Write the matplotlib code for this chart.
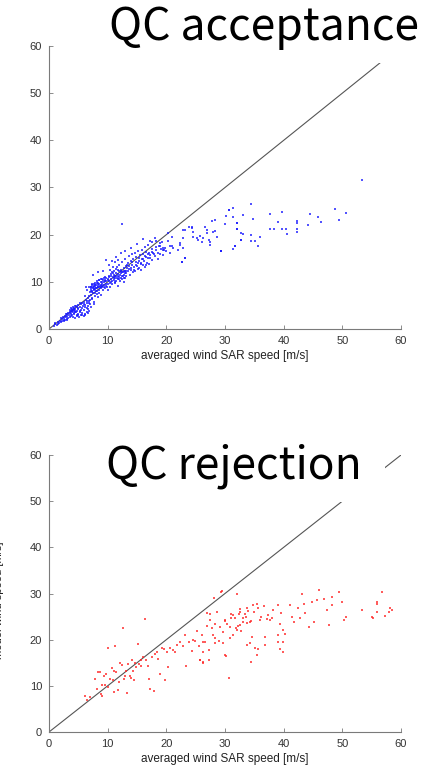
import matplotlib
matplotlib.use("Agg")
import matplotlib.pyplot as plt
import numpy as np

# ---------------- data ----------------
acc_x = [0.8,1.0,1.3,1.5,1.7,1.9,2.0,2.2,2.3,2.4,2.5,2.6,2.7,2.8,2.9,3.0,3.0,3.1,3.2,3.3,
         3.4,3.5,3.5,3.6,3.7,3.8,3.8,3.9,4.0,4.0,4.1,4.1,4.2,4.2,4.3,4.4,4.4,4.5,4.5,4.6,4.7,4.8,4.8,4.9,5.0,5.0,5.1,5.2,5.3,5.4,5.5,5.5,5.6,5.7,5.8,5.9,6.0,6.0,6.1,6.2,6.3,6.4,6.5,6.5,6.6,6.7,6.8,6.8,6.9,7.0,
         7.0,7.1,7.2,7.2,7.3,7.4,7.4,7.5,7.5,7.6,7.7,7.7,7.8,7.8,7.9,8.0,8.0,8.1,8.1,8.2,8.3,8.3,8.4,8.5,8.5,8.6,8.7,8.8,8.8,8.9,9.0,9.0,9.1,9.2,9.3,9.4,9.5,9.5,9.6,9.7,6.9,6.5,6.2,7.5,8.3,7.0,6.3,
         9.8,9.9,10.0,10.1,10.2,10.3,10.4,10.5,10.5,10.6,10.7,10.8,10.9,11.0,11.0,11.1,11.2,11.3,11.4,11.5,11.5,11.6,11.7,11.8,11.9,12.0,12.0,12.1,12.2,12.3,12.4,12.5,12.5,12.6,12.7,12.8,12.9,13.0,13.0,13.1,10.2,10.8,11.5,12.2,9.2,9.8,11.7,12.8,10.0,
         13.2,13.3,13.4,13.5,13.6,13.7,13.8,13.9,14.0,14.1,14.2,14.3,14.4,14.5,14.6,14.7,14.8,14.9,15.0,15.1,15.2,15.3,15.4,15.5,15.6,15.7,15.8,15.9,16.0,16.1,16.2,16.3,16.4,16.5,16.6,16.7,16.8,16.9,17.0,17.1,17.2,17.3,17.5,17.6,17.8,18.0,18.1,18.3,18.5,18.7,19.0,19.2,19.5,19.8,20.0,13.0,14.0,15.0,16.0,
         12.4,20.3,20.9,20.6,21.2,22.3,22.6,23.2,22.9,23.8,24.3,24.6,25.2,25.7,26.0,26.6,26.9,27.2,27.5,27.7,28.3,28.0,29.4,30.0,30.6,31.4,31.3,31.7,32.1,32.1,32.7,32.8,17.5,18.9,19.5,
         53.3,34.5,30.7,30.2,32.1,34.8,33.1,32.0,33.1,34.5,35.1,34.5,35.9,35.7,32.7,31.7,31.4,29.4,37.7,39.7,39.1,37.7,38.3,39.7,40.4,40.5,42.2,42.2,42.2,42.3,44.2,44.5,45.9,46.3,48.8,49.4,50.6,
         28.6,28.3,27.4,29.3,26.9,26.3,25.4,24.6,24.3,23.2,22.9,22.3,22.9,22.0,20.9,20.3,20.6,19.5,18.9,18.3,22.6,23.2,
         1.1,1.6,2.1,2.6,3.1,2.9,
         3.6,3.7,3.9,4.0,4.1,4.3,4.3,4.5,4.6,4.7,4.9,5.0,5.2,5.3,5.6,5.7,5.9,6.1,6.2,6.4,6.6,6.7,
         7.1,7.2,7.3,7.4,7.5,7.6,7.7,7.8,7.9,7.9,8.0,8.1,8.2,8.3,8.4,8.5,8.6,8.7,8.8,8.9,9.0,9.1,9.2,9.3,9.4,9.6,9.7,9.8,7.3,7.6,6.8,7.1,
         10.1,10.3,10.4,10.6,10.7,10.9,11.0,11.2,11.3,11.4,11.6,11.7,11.8,11.9,12.1,12.2,12.3,12.4,12.6,12.7,12.8,12.9,13.1,13.2,13.3,10.4,10.9,11.3,11.8,
         13.6,13.9,14.2,14.5,14.8,15.1,15.4,15.7,16.0,16.3,16.6,16.9,17.2,17.5,17.9,18.2,18.6,19.1,19.6]
acc_y = [0.6,1.0,0.9,1.4,1.2,1.8,1.5,2.1,1.6,2.5,1.9,2.3,2.8,2.0,2.6,3.1,2.2,2.7,3.4,2.4,
         3.0,3.6,2.5,4.0,3.2,3.8,2.8,4.3,3.5,4.1,3.9,2.6,4.5,3.3,4.0,3.7,4.8,4.2,2.4,3.5,4.6,3.9,2.8,5.0,4.3,3.2,2.5,4.7,3.6,5.2,2.9,4.1,5.5,3.4,4.8,2.7,5.8,4.0,3.2,5.1,6.2,4.5,3.6,5.6,6.6,4.9,3.9,6.0,7.1,5.3,
         7.8,8.5,7.2,9.0,8.1,6.5,9.5,8.7,7.6,9.2,8.2,5.8,9.8,7.0,8.8,8.0,9.4,7.4,10.1,8.6,9.0,6.8,9.7,8.3,10.4,7.7,9.2,8.6,10.0,7.2,9.6,8.9,10.6,8.2,9.9,9.3,10.4,8.7,11.0,9.6,9.0,8.2,7.0,11.5,12.0,6.2,8.9,
         10.1,9.0,10.7,9.6,11.2,10.2,8.8,11.6,9.9,10.6,12.0,9.5,11.0,10.3,12.4,11.5,9.8,10.8,12.8,11.2,10.1,13.2,11.7,10.5,12.2,11.0,13.6,10.2,11.8,12.6,11.3,14.3,10.6,12.0,13.0,11.5,12.4,14.8,10.9,13.4,13.5,14.4,15.2,16.1,12.4,14.6,9.2,9.9,8.2,
         11.8,12.9,14.0,12.2,15.4,13.3,11.5,14.4,12.6,15.8,13.6,12.0,14.8,13.1,16.2,12.4,14.1,15.2,13.4,12.8,16.5,14.5,13.0,15.6,14.0,12.6,16.8,14.9,13.6,15.9,14.4,17.3,13.2,15.2,16.4,14.0,17.8,15.0,16.2,13.8,18.6,15.6,17.0,14.6,16.2,19.2,15.4,16.8,14.8,17.6,16.0,18.4,15.6,17.2,16.5,16.5,17.2,18.0,19.0,
         22.3,20.3,19.6,17.5,17.1,17.8,14.1,15.0,21.0,21.7,21.6,20.6,19.2,19.7,18.5,21.7,21.0,18.9,17.8,23.0,23.1,20.6,16.6,22.2,25.2,25.6,23.8,17.5,22.4,21.1,18.9,20.3,18.5,18.2,17.1,
         31.5,26.5,25.3,24.0,22.4,23.4,24.1,21.2,20.2,19.9,18.7,18.7,19.4,17.5,18.9,17.5,16.9,16.6,24.3,24.7,22.6,21.3,21.3,21.3,21.3,20.2,22.8,22.4,21.2,20.6,22.0,24.3,23.8,22.6,25.5,23.2,24.6,
         19.6,20.7,18.5,16.6,20.3,19.3,18.9,19.6,21.4,21.0,19.3,18.2,17.2,16.8,17.5,18.6,16.1,16.8,17.5,18.6,14.3,15.0,
         1.3,1.0,2.4,1.7,2.0,3.2,
         3.4,4.4,3.0,3.8,4.6,3.1,4.3,3.8,4.9,3.0,4.4,2.9,3.9,5.5,3.0,4.4,5.3,4.6,2.9,5.9,4.2,3.3,
         8.0,8.8,9.4,7.9,9.0,8.4,9.6,8.5,9.3,7.6,8.7,9.8,8.1,9.4,8.8,9.5,10.3,8.9,9.4,10.6,9.2,9.9,10.3,8.9,10.8,10.1,9.2,10.8,6.4,5.2,5.6,4.6,
         10.4,11.0,9.8,11.3,10.2,11.8,10.8,11.2,10.0,11.9,10.8,12.5,11.3,10.7,11.5,12.4,10.9,12.0,11.2,12.3,10.8,11.8,12.2,11.2,13.6,12.6,13.2,14.1,14.6,
         12.8,13.0,14.3,12.6,13.6,14.0,15.1,13.8,14.8,15.5,13.6,16.0,15.0,16.4,15.8,17.4,16.2,17.0,16.8]

rej_x = [6.1,6.5,7.0,7.8,8.1,8.4,8.7,9.0,9.1,9.3,9.8,10.1,10.1,10.4,10.7,11.0,11.0,11.3,11.5,11.8,12.1,12.6,12.7,13.0,13.2,13.3,13.5,13.8,14.1,14.4,14.5,14.9,15.1,15.4,15.7,16.1,16.4,16.6,17.1,17.2,17.5,17.9,18.4,18.6,18.9,19.2,19.8,20.1,20.3,20.6,21.2,21.5,22.3,22.9,23.2,23.3,23.8,24.3,24.9,25.2,25.5,25.7,26.0,26.3,26.6,26.9,27.2,27.4,28.0,28.1,28.3,28.6,28.9,29.1,29.4,29.7,30.0,30.2,30.6,30.9,31.1,31.4,31.7,32.0,32.3,32.6,32.8,33.4,33.7,
         29.5,26.9,27.4,30.0,31.4,32.5,33.7,34.8,35.4,33.1,34.2,35.9,37.1,37.6,38.2,39.1,39.6,39.3,39.9,40.2,41.0,41.4,41.7,42.5,42.8,43.1,43.4,43.7,44.3,44.9,45.2,45.7,46.0,46.9,47.4,47.8,48.3,48.3,49.4,50.0,50.3,50.7,53.3,55.0,55.3,55.9,55.9,55.9,56.7,57.3,57.9,58.1,58.5,
         26.3,26.3,27.3,28.3,28.3,29.7,30.0,30.9,32.0,32.5,33.7,34.2,34.5,34.6,35.1,35.4,35.7,36.8,36.8,39.1,39.1,39.3,39.9,39.9,25.7,26.2,
         30.4,31.0,31.8,32.4,33.0,33.6,34.0,34.4,35.0,35.6,36.2,36.6,37.4,38.0,8.9,9.6,10.9,11.9,12.4,13.9,14.7,15.6,16.9,18.1,19.6,21.8,24.6,27.7]
rej_y = [7.9,7.0,7.6,11.5,9.4,12.9,13.1,10.1,7.9,12.2,12.6,9.7,18.3,11.5,13.9,13.3,8.6,18.6,12.9,9.0,14.9,22.5,11.5,12.2,13.3,8.4,14.7,12.2,15.5,13.3,11.2,14.0,19.1,14.7,15.5,16.2,24.5,15.5,11.5,9.4,16.2,8.8,17.3,15.8,12.6,18.2,11.2,17.3,14.0,18.3,17.8,17.3,19.4,18.7,21.1,14.4,19.4,17.6,19.8,21.9,18.7,15.5,21.0,15.1,19.4,23.0,15.5,25.5,21.0,29.1,23.4,25.9,19.8,22.7,30.4,21.6,24.1,16.5,11.7,22.7,25.5,21.0,24.8,29.9,23.0,26.6,21.9,25.5,23.7,
         30.6,25.7,24.2,24.2,25.3,26.0,26.8,27.5,27.8,24.6,23.9,24.2,24.4,24.2,26.4,27.5,25.7,23.5,22.1,21.3,27.5,25.0,23.9,26.8,24.6,29.8,27.8,25.7,22.8,28.2,23.9,28.5,30.7,28.9,26.4,23.2,29.3,27.5,30.4,28.2,24.2,25.0,26.4,25.0,24.6,28.2,27.7,26.0,30.4,25.1,26.0,26.8,26.5,
         19.6,17.4,17.7,20.3,19.2,19.2,16.6,20.3,22.1,23.1,18.8,19.2,15.2,20.6,18.1,16.6,18.0,20.6,18.8,21.0,19.6,18.0,19.6,17.4,15.6,14.9,
         23.3,24.8,22.6,25.6,23.8,25.0,26.2,24.1,25.9,26.9,24.9,27.3,25.4,24.6,8.3,10.2,11.2,10.8,14.6,11.8,14.9,14.2,14.4,16.8,17.9,18.8,19.9,22.6]

diag = [0, 60]
ticks = [0, 10, 20, 30, 40, 50, 60]
xlabel = "averaged wind SAR speed [m/s]"
ylabel = "model wind speed [m/s]"
titles = ["QC acceptance", "QC rejection "]

# ---------------- figure ----------------
W, H = 444, 769
fig = plt.figure(figsize=(W/100, H/100), dpi=100)
ax1 = fig.add_axes([49/W, 1-329/H, 352/W, 283/H])
ax2 = fig.add_axes([49/W, 1-732/H, 352/W, 277/H])

tick_font = ["Liberation Sans", "DejaVu Sans"]
spine_col = "#7a7a7a"
for ax, xs, ys, col, sz in [(ax1, acc_x, acc_y, (0.1, 0.1, 1.0), 3.0),
                            (ax2, rej_x, rej_y, (1.0, 0.15, 0.15), 2.4)]:
    ax.plot(diag, diag, color="#555555", lw=0.8, zorder=2)
    ax.scatter(xs, ys, s=sz, marker="s", color=col, alpha=0.75, linewidths=0, zorder=3)
    ax.set_xlim(0, 60)
    ax.set_ylim(0, 60)
    ax.set_xticks(ticks)
    ax.set_yticks(ticks)
    for s in ["top", "right"]:
        ax.spines[s].set_visible(False)
    for s in ["left", "bottom"]:
        ax.spines[s].set_color(spine_col)
        ax.spines[s].set_linewidth(0.8)
    ax.tick_params(direction="in", length=3, width=0.6, color=spine_col,
                   labelsize=8, labelcolor="#333333", pad=5)
    for lab in ax.get_xticklabels() + ax.get_yticklabels():
        lab.set_family(tick_font)
    ax.set_xlabel(xlabel, fontsize=8.5, color="#222222", family=tick_font, labelpad=3)

# y label on the lower panel, mostly beyond the left edge as in the reference
fig.text(4/W, 1-600/H, ylabel, rotation=90, ha="right", va="center",
         fontsize=8, color="#222222", family=tick_font)

title_font = ["Noto Sans CJK SC", "DejaVu Sans"]
fig.text(264/W, 1-27/H, titles[0], ha="center", va="center", fontsize=32,
         family=title_font, fontweight="light", color="black", zorder=10,
         bbox=dict(boxstyle="square,pad=0.3", fc="white", ec="none"))
fig.text(239/W, 1-466/H, titles[1], ha="center", va="center", fontsize=32,
         family=title_font, fontweight="light", color="black", zorder=10,
         bbox=dict(boxstyle="square,pad=0.3", fc="white", ec="none"))

fig.savefig("out.png", dpi=100, facecolor="white")
